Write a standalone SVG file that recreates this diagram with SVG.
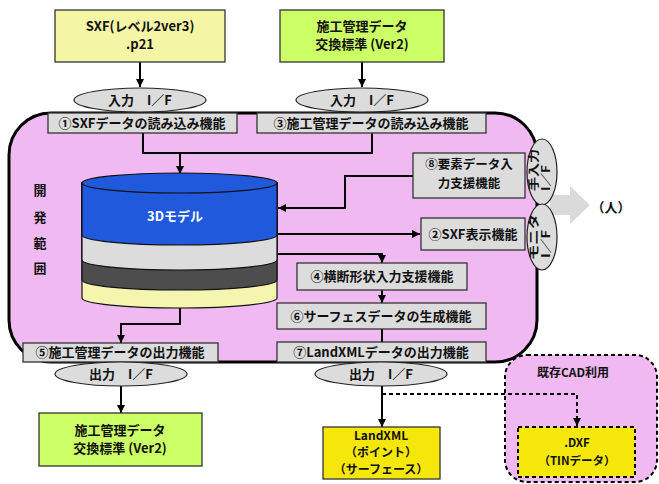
<svg xmlns="http://www.w3.org/2000/svg" width="659" height="484" viewBox="0 0 659 484">
<style>
text{font-family:"Noto Sans CJK JP","Liberation Sans",sans-serif;font-weight:bold;fill:#111;text-anchor:middle}
.t13{font-size:13px}
.t12{font-size:12px}
.t11{font-size:11px}
.st{text-anchor:start}
.fn{fill:#dcdcdc;stroke:#333;stroke-width:1.3}
.ell{fill:#dcdcdc;stroke:#222;stroke-width:1.2}
.ln{fill:none;stroke:#000;stroke-width:2}
.dash{fill:none;stroke:#000;stroke-width:2;stroke-dasharray:4,3}
</style>
<defs>
<marker id="ah" markerUnits="userSpaceOnUse" markerWidth="9" markerHeight="9" refX="8" refY="4" orient="auto">
<path d="M0,0 L8,4 L0,8 z" fill="#000"/>
</marker>
</defs>
<rect width="659" height="484" fill="#fff"/>

<g id="range">
<rect x="9" y="113" width="528" height="249" rx="42" ry="42" fill="#f1b9f1" stroke="#000" stroke-width="3"/>
<text class="t13"><tspan x="40" y="195">開</tspan><tspan x="40" y="222">発</tspan><tspan x="40" y="248">範</tspan><tspan x="40" y="273">囲</tspan></text>
</g>

<g id="cad">
<rect x="505" y="355" width="152" height="127" rx="22" ry="22" fill="#f1b9f1" stroke="#000" stroke-width="2" stroke-dasharray="4,3"/>
<text class="t12" x="573" y="377">既存CAD利用</text>
</g>

<g id="person">
<polygon points="550,195 570,195 570,186 590,205 570,224 570,215 550,215" fill="#dadada"/>
<text class="t13" x="611" y="212">（人）</text>
</g>

<g id="connectors">
<line class="ln" x1="140" y1="62" x2="140" y2="87" marker-end="url(#ah)"/>
<line class="ln" x1="362" y1="62" x2="362" y2="87" marker-end="url(#ah)"/>
<polyline class="ln" points="143,133 143,153 372,153 372,133"/>
<line class="ln" x1="180" y1="153" x2="180" y2="174" marker-end="url(#ah)"/>
<polyline class="ln" points="413,176 345,176 345,208 278,208" marker-end="url(#ah)"/>
<line class="ln" x1="277" y1="234" x2="420" y2="234" marker-end="url(#ah)"/>
<polyline class="ln" points="277,254 382,254 382,263" marker-end="url(#ah)"/>
<line class="ln" x1="382" y1="290" x2="382" y2="303" marker-end="url(#ah)"/>
<line class="ln" x1="382" y1="329" x2="382" y2="342"/>
<polyline class="ln" points="180,308 180,324 121,324 121,343" marker-end="url(#ah)"/>
<line class="ln" x1="121" y1="386" x2="121" y2="413" marker-end="url(#ah)"/>
<line class="ln" x1="382" y1="386" x2="382" y2="427" marker-end="url(#ah)"/>
<polyline class="dash" points="382,394 577,394 577,426" marker-end="url(#ah)"/>
</g>

<g id="src-sxf">
<rect x="55" y="10" width="170" height="52" fill="#f5f5a6" stroke="#333" stroke-width="1.3"/>
<text class="t13" x="140" y="31">SXF(レベル2ver3)</text>
<text class="t13" x="140" y="49">.p21</text>
</g>

<g id="src-sekou">
<rect x="280" y="10" width="164" height="52" fill="#ccff66" stroke="#333" stroke-width="1.3"/>
<text class="t13" x="362" y="31">施工管理データ</text>
<text class="t13" x="362" y="49">交換標準 (Ver2)</text>
</g>

<g id="if-in1">
<ellipse class="ell" cx="140" cy="100" rx="66" ry="12"/>
<text class="t13" x="140" y="105">入力　I／F</text>
</g>
<g id="if-in2">
<ellipse class="ell" cx="362" cy="100" rx="66" ry="12"/>
<text class="t13" x="362" y="105">入力　I／F</text>
</g>

<g id="f1">
<rect class="fn" x="48" y="113" width="189" height="20"/>
<text class="t13" x="142" y="128">①SXFデータの読み込み機能</text>
</g>
<g id="f3">
<rect class="fn" x="257" y="113" width="229" height="20"/>
<text class="t13" x="371" y="128">③施工管理データの読み込み機能</text>
</g>

<g id="model">
<path d="M82,183 L82,298 A97.5,10 0 0 0 277,298 L277,183 Z" fill="#f5f5b0" stroke="#111" stroke-width="1.2"/>
<path d="M82,183 L82,280 A97.5,10 0 0 0 277,280 L277,183 Z" fill="#4d4d4d" stroke="#111" stroke-width="1.2"/>
<path d="M82,183 L82,260 A97.5,10 0 0 0 277,260 L277,183 Z" fill="#dcdcdc" stroke="#111" stroke-width="1.2"/>
<path d="M82,183 L82,235 A97.5,10 0 0 0 277,235 L277,183 Z" fill="#2159dc" stroke="#111" stroke-width="1.2"/>
<ellipse cx="179.5" cy="183" rx="97.5" ry="10" fill="#2159dc" stroke="#111" stroke-width="1.2"/>
<text class="t13" x="175" y="221" style="fill:#fff">3Dモデル</text>
</g>

<g id="f8">
<rect class="fn" x="413" y="153" width="112" height="45"/>
<text x="469" y="169" style="font-size:12.5px">⑧要素データ入</text>
<text x="469" y="188" style="font-size:12.5px">力支援機能</text>
</g>
<g id="f2">
<rect class="fn" x="421" y="218" width="104" height="32"/>
<text class="t13" x="473" y="239">②SXF表示機能</text>
</g>
<g id="f4">
<rect class="fn" x="297" y="263" width="170" height="27"/>
<text class="t13" x="382" y="281">④横断形状入力支援機能</text>
</g>
<g id="f6">
<rect class="fn" x="277" y="303" width="209" height="26"/>
<text class="t13" x="381" y="321">⑥サーフェスデータの生成機能</text>
</g>
<g id="f7">
<rect class="fn" x="277" y="342" width="209" height="20"/>
<text class="t13" x="381" y="357">⑦LandXMLデータの出力機能</text>
</g>
<g id="f5">
<rect class="fn" x="23" y="343" width="195" height="19"/>
<text class="t13" x="120" y="357">⑤施工管理データの出力機能</text>
</g>

<g id="if-hand">
<ellipse class="ell" cx="542" cy="172" rx="15" ry="33"/>
<g transform="rotate(-90 542 172)">
<text class="t11 st" x="523" y="168" textLength="42" lengthAdjust="spacingAndGlyphs">手入力</text>
<text class="t11 st" x="523" y="180" textLength="26" lengthAdjust="spacingAndGlyphs">I／F</text>
</g>
</g>
<g id="if-mon">
<ellipse class="ell" cx="542" cy="237" rx="15" ry="33"/>
<g transform="rotate(-90 542 237)">
<text class="t11 st" x="519" y="233" textLength="46" lengthAdjust="spacingAndGlyphs">モニタ</text>
<text class="t11 st" x="521" y="245" textLength="28" lengthAdjust="spacingAndGlyphs">I／F</text>
</g>
</g>

<g id="if-out1">
<ellipse class="ell" cx="121" cy="374" rx="66" ry="12"/>
<text class="t13" x="121" y="379">出力　I／F</text>
</g>
<g id="if-out2">
<ellipse class="ell" cx="381" cy="374" rx="66" ry="12"/>
<text class="t13" x="381" y="379">出力　I／F</text>
</g>

<g id="out-sekou">
<rect x="39" y="413" width="163" height="53" fill="#ccff66" stroke="#333" stroke-width="1.3"/>
<text class="t13" x="120" y="435">施工管理データ</text>
<text class="t13" x="120" y="453">交換標準 (Ver2)</text>
</g>
<g id="out-landxml">
<rect x="323" y="427" width="117" height="52" fill="#f5e70a" stroke="#333" stroke-width="1.3"/>
<text class="t12" x="381" y="440">LandXML</text>
<text class="t12" x="381" y="457">（ポイント）</text>
<text class="t12" x="381" y="474">（サーフェース）</text>
</g>
<g id="out-dxf">
<rect x="518" y="427" width="117" height="50" fill="#f5e70a" stroke="#000" stroke-width="2" stroke-dasharray="4,3"/>
<text x="577" y="447" style="font-size:11.5px">.DXF</text>
<text x="577" y="465" style="font-size:11.5px">（TINデータ）</text>
</g>
</svg>
